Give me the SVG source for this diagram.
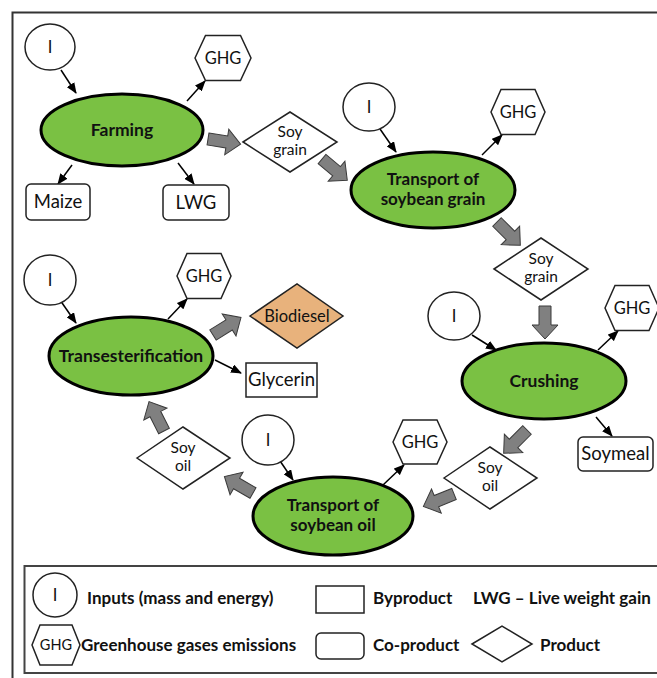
<svg xmlns="http://www.w3.org/2000/svg" xmlns:xlink="http://www.w3.org/1999/xlink" width="657" height="678" viewBox="0 0 657 678">
<defs>
<style>
.proc{fill:#7ac143;stroke:#000;stroke-width:3}
.inp{fill:#fff;stroke:#222;stroke-width:1.5}
.hex{fill:#fff;stroke:#222;stroke-width:1.5}
.dia{fill:#fff;stroke:#222;stroke-width:1.5}
.bio{fill:#e8b27c;stroke:#222;stroke-width:1.5}
.co{fill:#fff;stroke:#222;stroke-width:1.5}
.by{fill:#fff;stroke:#222;stroke-width:1.5}
.t{font-family:Lato,"Open Sans","Liberation Sans",sans-serif;fill:#111;text-anchor:middle}
.b{font-weight:bold;font-size:17.5px}
.b2{font-weight:bold;font-size:17px}
.n{font-size:16.5px}
.d{font-size:15.5px}
.bx{font-size:18.5px}
.lg{font-family:Lato,"Open Sans","Liberation Sans",sans-serif;fill:#111;font-weight:bold;font-size:17px}
.ar{stroke:#000;stroke-width:1.5;fill:none;marker-end:url(#ah)}
.blk{fill:#808080;stroke:#3a3a3a;stroke-width:1}
</style>
<marker id="ah" markerUnits="userSpaceOnUse" markerWidth="11" markerHeight="9" refX="10" refY="4.5" orient="auto">
<path d="M0,0 L11,4.5 L0,9 z" fill="#000"/>
</marker>
<polygon id="blkarrow" class="blk" points="0,-6 19,-6 19,-13 33,0 19,13 19,6 0,6"/>
</defs>

<rect x="12.5" y="12.5" width="700" height="700" fill="#fff" stroke="#333" stroke-width="2"/>

<g id="connectors">
<line class="ar" x1="61" y1="70" x2="76" y2="93"/>
<line class="ar" x1="187" y1="101" x2="205" y2="81"/>
<line class="ar" x1="72" y1="165" x2="58" y2="184"/>
<line class="ar" x1="178" y1="163" x2="194" y2="184"/>
<line class="ar" x1="380" y1="129" x2="396" y2="152"/>
<line class="ar" x1="482" y1="155" x2="502" y2="135"/>
<line class="ar" x1="472" y1="335" x2="496" y2="350"/>
<line class="ar" x1="598" y1="350" x2="618" y2="331"/>
<line class="ar" x1="596" y1="417" x2="612" y2="436"/>
<line class="ar" x1="278" y1="458" x2="293" y2="480"/>
<line class="ar" x1="383" y1="485" x2="404" y2="465"/>
<line class="ar" x1="60" y1="300" x2="76" y2="323"/>
<line class="ar" x1="168" y1="319" x2="187" y2="299"/>
<line class="ar" x1="215" y1="360" x2="241" y2="373"/>
<use xlink:href="#blkarrow" transform="translate(208,139) rotate(9)"/>
<use xlink:href="#blkarrow" transform="translate(322,159) rotate(40)"/>
<use xlink:href="#blkarrow" transform="translate(497,222) rotate(45)"/>
<use xlink:href="#blkarrow" transform="translate(545,306) rotate(90)"/>
<use xlink:href="#blkarrow" transform="translate(527,430) rotate(135)"/>
<use xlink:href="#blkarrow" transform="translate(454,494) rotate(158)"/>
<use xlink:href="#blkarrow" transform="translate(253,493) rotate(210)"/>
<use xlink:href="#blkarrow" transform="translate(164,431) rotate(243)"/>
<use xlink:href="#blkarrow" transform="translate(213,335) rotate(-32)"/>
</g>

<!-- Farming cluster -->
<g id="farming">
<ellipse class="proc" cx="122" cy="130" rx="81" ry="36"/>
<text class="t b" x="122" y="136">Farming</text>
</g>
<g id="farming-input">
<ellipse class="inp" cx="50" cy="47" rx="25" ry="23"/>
<text class="t n" x="50" y="53">I</text>
</g>
<g id="farming-ghg">
<polygon class="hex" points="-28,0 -17.5,-22.5 17.5,-22.5 28,0 17.5,22.5 -17.5,22.5" transform="translate(223,58)"/>
<text class="t n" x="223" y="64">GHG</text>
</g>
<g id="maize">
<rect class="co" x="26" y="184" width="64" height="36" rx="5"/>
<text class="t bx" x="58" y="208">Maize</text>
</g>
<g id="lwg">
<rect class="co" x="163" y="185" width="66" height="35" rx="5"/>
<text class="t bx" x="196" y="209">LWG</text>
</g>
<g id="soy-grain-1">
<polygon class="dia" points="243,142 290,112 337,142 290,172"/>
<text class="t d" x="290" y="137">Soy<tspan x="290" dy="18">grain</tspan></text>
</g>

<!-- Transport of soybean grain -->
<g id="transport-grain">
<ellipse class="proc" cx="433" cy="190" rx="82" ry="38"/>
<text class="t b2" x="433" y="185">Transport of<tspan x="433" dy="19.5">soybean grain</tspan></text>
</g>
<g id="transport-grain-input">
<ellipse class="inp" cx="369" cy="107" rx="26" ry="24"/>
<text class="t n" x="369" y="113">I</text>
</g>
<g id="transport-grain-ghg">
<polygon class="hex" points="-27,0 -17,-22.5 17,-22.5 27,0 17,22.5 -17,22.5" transform="translate(518,112)"/>
<text class="t n" x="518" y="118">GHG</text>
</g>
<g id="soy-grain-2">
<polygon class="dia" points="494,269 541,238 588,269 541,300"/>
<text class="t d" x="541" y="264">Soy<tspan x="541" dy="18">grain</tspan></text>
</g>

<!-- Crushing -->
<g id="crushing">
<ellipse class="proc" cx="544" cy="381" rx="82" ry="38"/>
<text class="t b" x="544" y="387">Crushing</text>
</g>
<g id="crushing-input">
<ellipse class="inp" cx="454" cy="316" rx="26" ry="24"/>
<text class="t n" x="454" y="322">I</text>
</g>
<g id="crushing-ghg">
<polygon class="hex" points="-27,0 -17,-22.5 17,-22.5 27,0 17,22.5 -17,22.5" transform="translate(632,308)"/>
<text class="t n" x="632" y="314">GHG</text>
</g>
<g id="soymeal">
<rect class="co" x="578" y="437" width="75" height="34" rx="5"/>
<text class="t bx" x="615.5" y="460">Soymeal</text>
</g>
<g id="soy-oil-1">
<polygon class="dia" points="444,478 490,447 537,478 490,509"/>
<text class="t d" x="490" y="473">Soy<tspan x="490" dy="18">oil</tspan></text>
</g>

<!-- Transport of soybean oil -->
<g id="transport-oil">
<ellipse class="proc" cx="333" cy="516" rx="80" ry="39"/>
<text class="t b2" x="333" y="511">Transport of<tspan x="333" dy="19.5">soybean oil</tspan></text>
</g>
<g id="transport-oil-input">
<ellipse class="inp" cx="268" cy="440" rx="26" ry="25"/>
<text class="t n" x="268" y="446">I</text>
</g>
<g id="transport-oil-ghg">
<polygon class="hex" points="-27,0 -17,-22 17,-22 27,0 17,22 -17,22" transform="translate(420,442)"/>
<text class="t n" x="420" y="448">GHG</text>
</g>
<g id="soy-oil-2">
<polygon class="dia" points="137,458 183,427 230,458 183,489"/>
<text class="t d" x="183" y="453">Soy<tspan x="183" dy="18">oil</tspan></text>
</g>

<!-- Transesterification -->
<g id="transesterification">
<ellipse class="proc" cx="131" cy="356" rx="82" ry="39"/>
<text class="t b" x="131" y="362">Transesterification</text>
</g>
<g id="transesterification-input">
<ellipse class="inp" cx="50" cy="280" rx="26" ry="25"/>
<text class="t n" x="50" y="286">I</text>
</g>
<g id="transesterification-ghg">
<polygon class="hex" points="-27,0 -17,-22.5 17,-22.5 27,0 17,22.5 -17,22.5" transform="translate(204,276)"/>
<text class="t n" x="204" y="282">GHG</text>
</g>
<g id="biodiesel">
<polygon class="bio" points="250,316 297,284 343,316 297,348"/>
<text class="t n" x="297" y="322">Biodiesel</text>
</g>
<g id="glycerin">
<rect class="by" x="246" y="363" width="71" height="34"/>
<text class="t bx" x="281.5" y="386">Glycerin</text>
</g>

<!-- Legend -->
<g id="legend">
<rect x="24.5" y="566" width="700" height="107" fill="#fff" stroke="#444" stroke-width="2"/>
<ellipse class="inp" cx="55" cy="595" rx="22" ry="22"/>
<text class="t n" x="55" y="601">I</text>
<text class="lg" x="87" y="604">Inputs (mass and energy)</text>
<polygon class="hex" points="-24,0 -16,-20 16,-20 24,0 16,20 -16,20" transform="translate(56,645)"/>
<text class="t" style="font-size:14.5px" x="56" y="650">GHG</text>
<text class="lg" x="81" y="651">Greenhouse gases emissions</text>
<rect class="by" x="316" y="586" width="48" height="27"/>
<text class="lg" x="373" y="604">Byproduct</text>
<text class="lg" x="473" y="604">LWG – Live weight gain</text>
<rect class="co" x="316" y="633" width="48" height="26" rx="5"/>
<text class="lg" x="373" y="651">Co-product</text>
<polygon class="dia" points="472,644 502,626 532,644 502,662"/>
<text class="lg" x="540" y="651">Product</text>
</g>
</svg>
